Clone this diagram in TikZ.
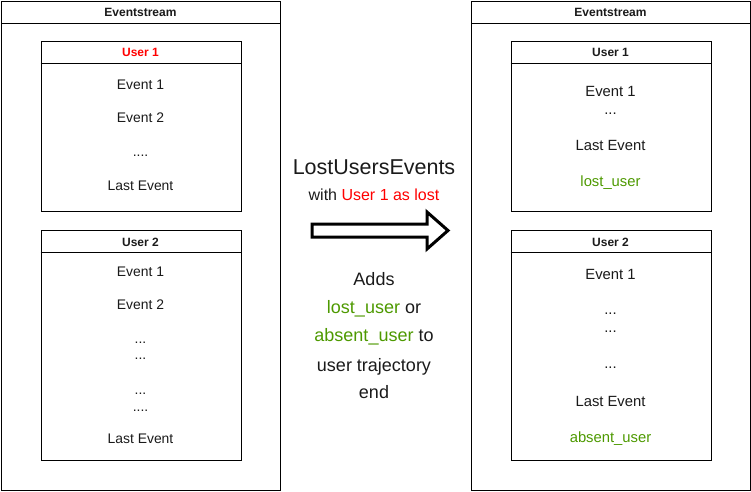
\documentclass[tikz,border=0pt]{standalone}
\usepackage{fontspec}
\setmainfont{Liberation Sans}
\usepackage{xcolor}
\usetikzlibrary{positioning}
\definecolor{lostred}{HTML}{FF0000}
\definecolor{addgreen}{HTML}{4D9900}
\definecolor{txt}{HTML}{1A1A1A}

\begin{document}
\begin{tikzpicture}[x=1pt,y=-1pt,
                    frame/.style={draw,line width=1pt,anchor=north west,inner sep=0pt},
                    title/.style={anchor=base,inner sep=0pt,text=txt,font=\fontsize{12}{14}\selectfont\bfseries},
                    ev/.style={anchor=base,inner sep=0pt,text=txt,font=\fontsize{13.9}{16}\selectfont},
                    evr/.style={anchor=base,inner sep=0pt,text=txt,font=\fontsize{14.8}{17}\selectfont},
                    note/.style={anchor=base,inner sep=0pt,text=txt,font=\fontsize{18}{22}\selectfont}]

 \useasboundingbox (0,0) rectangle (751,491);

 % outer streams and user boxes
 \node[frame,minimum width=279pt,minimum height=489pt] (streamL) at (1,1) {};
 \node[frame,minimum width=279pt,minimum height=489pt] (streamR) at (471,1) {};
 \node[frame,minimum width=200pt,minimum height=170pt] (userLa) at (40.5,40.5) {};
 \node[frame,minimum width=200pt,minimum height=230pt] (userLb) at (40.5,230) {};
 \node[frame,minimum width=200pt,minimum height=170pt] (userRa) at (510.5,40.5) {};
 \node[frame,minimum width=200pt,minimum height=230pt] (userRb) at (510.5,230) {};

 \foreach \b in {streamL,streamR,userLa,userLb,userRa,userRb}
   \draw[line width=1pt] ([yshift=-22.5pt]\b.north west) -- ([yshift=-22.5pt]\b.north east);

 % titles
 \node[title] (titleL) at (140.5,16.3) {Eventstream};
 \node[title] (titleR) at (610.5,16.3) {Eventstream};
 \node[title,text=lostred] (nameLa) at (140.5,56.3) {User 1};
 \node[title] (nameLb) at (140.5,246.3) {User 2};
 \node[title] (nameRa) at (610.5,56.3) {User 1};
 \node[title] (nameRb) at (610.5,246.3) {User 2};

 % left user 1
 \node[ev] (la1) at (140.5,89.9) {Event 1};
 \node[ev] (la2) at (140.5,122.9) {Event 2};
 \node[ev] (la3) at (140.5,156) {....};
 \node[ev] (la4) at (140.5,190.9) {Last Event};

 % left user 2
 \node[ev] (lb1) at (140.5,276.6) {Event 1};
 \node[ev] (lb2) at (140.5,309.9) {Event 2};
 \node[ev] (lb3) at (140.5,343) {...};
 \node[ev] (lb4) at (140.5,359) {...};
 \node[ev] (lb5) at (140.5,394) {...};
 \node[ev] (lb6) at (140.5,411) {....};
 \node[ev] (lb7) at (140.5,443.9) {Last Event};

 % right user 1
 \node[evr] (ra1) at (610.5,96) {Event 1};
 \node[evr] (ra2) at (610.5,114) {...};
 \node[evr] (ra3) at (610.5,150.3) {Last Event};
 \node[evr,text=addgreen] (ra4) at (610.5,186.3) {lost\_user};

 % right user 2
 \node[evr] (rb1) at (610.5,279.3) {Event 1};
 \node[evr] (rb2) at (610.5,314.5) {...};
 \node[evr] (rb3) at (610.5,332.5) {...};
 \node[evr] (rb4) at (610.5,368.5) {...};
 \node[evr] (rb5) at (610.5,406.3) {Last Event};
 \node[evr,text=addgreen] (rb6) at (610.5,442.3) {absent\_user};

 % transformation in the middle
 \node[note,font=\fontsize{21.5}{24}\selectfont] (op) at (374,174) {LostUsersEvents};
 \node[note,font=\fontsize{16}{19}\selectfont] (opwith) at (374,200) {with \textcolor{lostred}{User 1 as lost}};

 \draw[line width=3pt,miter limit=4,fill=white]
   (312,224) -- (427,224) -- (427,212) -- (448,230.5) -- (427,249) -- (427,237) -- (312,237) -- cycle;

 \node[note] (adds1) at (374,285.7) {Adds};
 \node[note] (adds2) at (374,313.3) {\textcolor{addgreen}{lost\_user} or};
 \node[note] (adds3) at (374,341.7) {\textcolor{addgreen}{absent\_user} to};
 \node[note] (adds4) at (374,371) {user trajectory};
 \node[note] (adds5) at (374,398) {end};

\end{tikzpicture}
\end{document}
